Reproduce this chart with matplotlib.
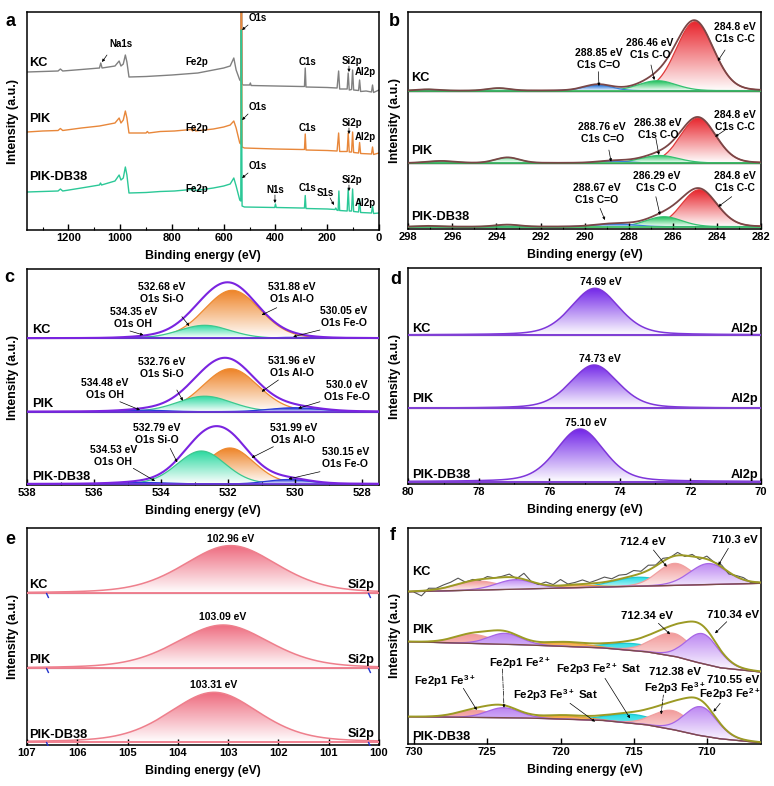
import numpy as np
import matplotlib
matplotlib.use("Agg")
import matplotlib.pyplot as plt
from matplotlib.colors import to_rgb
from matplotlib.patches import Polygon
from matplotlib.ticker import MultipleLocator

plt.rcParams['font.family'] = ['Liberation Sans', 'DejaVu Sans']
plt.rcParams['font.weight'] = 'bold'
plt.rcParams['mathtext.fontset'] = 'custom'
plt.rcParams['mathtext.rm'] = 'Liberation Sans:bold'
plt.rcParams['mathtext.bf'] = 'Liberation Sans:bold'
plt.rcParams['mathtext.default'] = 'rm'

W, H = 774, 786
samples = ['KC', 'PIK', 'PIK-DB38']

# ---------------- a: survey spectra (binding energy, intensity) ----------------
kc_be = [1360, 1300, 1240, 1231, 1222, 1150, 1080, 1075, 1070, 1020, 1004, 997, 988, 980, 974,
         966, 900, 800, 700, 640, 600, 575, 561, 552, 538, 534, 532, 529, 525, 500,
         497, 494, 400, 300, 288, 285, 282, 200, 162, 156, 152, 123, 119, 115, 106,
         102, 98, 79, 75, 71, 50, 29, 25, 21, 0]
kc_int = [158, 158.5, 159, 161, 159, 160.5, 162, 167, 162, 164, 169, 164, 166, 175, 168,
          153, 153.5, 155, 157, 160, 162, 164, 172, 160, 150, 149, 330, 146, 145, 145,
          147, 144.5, 144, 143.5, 143.5, 162, 143, 142.5, 142, 159, 141, 141, 157, 140, 140.5,
          160, 140, 139.5, 150, 138.5, 139, 138, 145, 137.5, 140]
pik_be = [1360, 1300, 1240, 1231, 1222, 1150, 1080, 1020, 1004, 997, 988, 980, 974, 966, 900,
          895, 890, 845, 790, 726, 720, 713, 708, 640, 600, 575, 561, 552, 538, 534,
          532, 529, 520, 400, 300, 288, 285, 282, 200, 162, 156, 152, 123, 119, 115,
          106, 102, 98, 79, 75, 71, 29, 25, 21, 0]
pik_int = [98, 99, 99.5, 101.5, 99.5, 102, 104, 107, 112, 107, 110, 119, 112, 97, 97,
           98.5, 97, 98.5, 99, 100.5, 99, 102.5, 99, 101, 103, 105, 109, 102, 87, 86,
           330, 83, 82, 81, 80.5, 80.5, 96, 80, 79.5, 79, 97, 78.5, 78.5, 97, 78,
           78, 98, 77.5, 77, 87.5, 76.5, 76, 83, 75.5, 77]
db_be = [1360, 1300, 1240, 1231, 1222, 1150, 1080, 1076, 1072, 1020, 1004, 997, 988, 980, 974,
         966, 900, 845, 790, 726, 720, 713, 708, 640, 600, 575, 561, 552, 538, 534,
         532, 529, 520, 403, 400, 397, 300, 288, 285, 282, 200, 170, 167, 163, 158,
         155, 152, 123, 119, 115, 106, 102, 98, 79, 75, 71, 29, 25, 21, 0]
db_int = [38, 38.5, 39, 41, 39, 42, 45, 47, 45, 49, 55, 50, 52, 63, 55,
          37, 37.5, 38.5, 39, 40.5, 39.5, 43, 39.5, 42, 44, 46, 52, 44, 30, 29,
          200, 24, 23, 22.5, 26, 22.5, 22, 22, 34.5, 21.5, 21, 20.5, 22, 20, 19.5,
          39, 19.5, 19, 41, 19, 19, 41, 18.5, 18, 31, 17.5, 17, 24, 16.5, 17]

# ---------------- b: C1s fits, (centre eV, height, FWHM) ----------------
c1s_base = [138.3, 66, 2.3]
c1s_cc = [(285.0, 69, 2.0), (284.85, 45, 1.9), (284.8, 37, 1.9)]
c1s_co = [(286.7, 10, 2.0), (286.6, 7.5, 2.0), (286.4, 10, 1.9)]
c1s_cdo = [(289.4, 6, 1.5), (288.7, 2, 1.6), (288.6, 3, 2.0)]
c1s_sat = [[(297.1, 1.3, 1.2), (293.9, 2.5, 1.2)],
           [(296.5, 2.0, 1.5), (293.5, 5.5, 1.3)],
           [(297.0, 0.8, 1.2), (293.5, 2.0, 1.3)]]
c1s_cc_lab = ['284.8 eV', '284.8 eV', '284.8 eV']
c1s_co_lab = ['286.46 eV', '286.38 eV', '286.29 eV']
c1s_cdo_lab = ['288.85 eV', '288.76 eV', '288.67 eV']

# ---------------- c: O1s fits ----------------
o1s_base = [146.7, 73.3, 1.0]
o1s_alo = [(531.88, 48, 1.95), (531.93, 43, 1.95), (531.95, 36, 1.7)]
o1s_sio = [(532.7, 13, 1.8), (532.7, 15.5, 1.9), (532.8, 33, 1.7)]
o1s_oh = [(534.4, 1.0, 1.5), (534.5, 1.5, 1.6), (534.5, 1.5, 1.8)]
o1s_feo = [(530.0, 1.0, 1.5), (530.0, 4.0, 1.8), (530.2, 4.5, 1.5)]
o1s_lab = [['534.35 eV', '532.68 eV', '531.88 eV', '530.05 eV'],
           ['534.48 eV', '532.76 eV', '531.96 eV', '530.0 eV'],
           ['534.53 eV', '532.79 eV', '531.99 eV', '530.15 eV']]

# ---------------- d: Al2p ----------------
al2p_base = [149, 75.7, 2.3]
al2p_peak = [(74.71, 46.7, 1.6), (74.73, 43.3, 1.6), (75.13, 52.7, 1.6)]
al2p_lab = ['74.69 eV', '74.73 eV', '75.10 eV']

# ---------------- e: Si2p ----------------
si2p_base = [151.7, 76.7, 2.7]
si2p_peak = [(102.95, 47.7, 2.2), (103.1, 43.3, 2.2), (103.28, 50, 2.1)]
si2p_lab = ['102.96 eV', '103.09 eV', '103.31 eV']
si2p_bg_ends = [106.6, 100.2]

# ---------------- f: Fe2p ----------------
fe_bg_be = [730.4, 722, 717, 714, 712, 710.5, 709, 706.3]
fe_bg = [[152.3, 155.2, 157.0, 158.0, 158.7, 159.2, 159.8, 160.7],
         [102.3, 99, 96, 92, 87, 81, 76, 72],
         [27.3, 26, 23.5, 19, 13.5, 8.5, 5, 1.3]]
fe_p1_3 = [(725.7, 9, 3.5), (726.0, 9, 3.0), (725.8, 7, 3.0)]
fe_p1_2 = [(723.1, 9.5, 3.0), (723.8, 11, 2.6), (723.9, 10, 2.6)]
fe_sat3 = [(718.8, 2.5, 3.0), (719.6, 4, 3.5), (719.7, 3.5, 3.5)]
fe_sat2 = [(714.7, 9, 4.0), (715.0, 7, 4.0), (715.0, 9, 4.0)]
fe_p3_3 = [(712.2, 22, 2.8), (712.3, 23, 3.2), (712.35, 19, 3.0)]
fe_p3_2 = [(709.9, 21, 3.0), (710.3, 30, 2.6), (710.4, 29, 2.6)]
# KC raw data, deviation from the fit every 0.5 eV from 730 to 706.5
kc_fe_raw_be = np.arange(730, 706.4, -0.5)
kc_fe_resid = [-1, -5, 2, 1, 3, 4, 6, 0, 1, -1, 2, 0, 1, 3, -1, 6, 0, -1, 3, 1, 6, 1, 2, 4,
               1, 3, 5, 2, 4, 3, 5, 2, 5, 1, 3, 0, 3, -1, 2, -2, 3, 0, 2, -2, 1, 2, -1, 0]

NAME_FS = 9.2
LAB_FS = 7.5

fig = plt.figure(figsize=(W / 100, H / 100), dpi=100)


def ftext(px, py, s, **kw):
    fig.text(px / W, 1 - py / H, s, **kw)


def make_ax(l, t, r, b):
    ax = fig.add_axes([l / W, 1 - b / H, (r - l) / W, (b - t) / H])
    for s in ax.spines.values():
        s.set_linewidth(1.1)
    return ax


def finish(ax, xlim, ylim, major, minor=None):
    ax.set_xlim(*xlim)
    ax.set_ylim(*ylim)
    ax.xaxis.set_major_locator(MultipleLocator(major))
    if minor:
        ax.xaxis.set_minor_locator(MultipleLocator(minor))
    ax.set_yticks([])
    ax.tick_params(axis='x', which='both', direction='in', labelsize=8, pad=2.5)
    ax.tick_params(which='major', length=4, width=1)
    ax.tick_params(which='minor', length=2, width=0.8)


def pv(x, c, h, w, eta):
    g = np.exp(-4 * np.log(2) * ((x - c) / w) ** 2)
    lor = 1 / (1 + 4 * ((x - c) / w) ** 2)
    return h * ((1 - eta) * g + eta * lor)


def grad_fill(ax, x, lo, hi, color, z):
    lo = np.broadcast_to(lo, x.shape)
    verts = np.vstack([np.column_stack([x, hi]), np.column_stack([x[::-1], lo[::-1]])])
    patch = Polygon(verts, closed=True, fc='none', ec='none')
    ax.add_patch(patch)
    t = np.linspace(0, 1, 200)[:, None, None]
    img = (1 - t) * np.ones(3) + t * np.array(to_rgb(color))
    im = ax.imshow(img, extent=[x.min(), x.max(), lo.min(), hi.max()], origin='lower',
                   aspect='auto', interpolation='bilinear', zorder=z)
    im.set_clip_path(patch)


def stack(ax, x, base, comps, eta, lw=0.9):
    base = np.broadcast_to(base, x.shape).astype(float)
    total = np.zeros_like(x)
    for i, (c, h, w, fc, lc) in enumerate(comps):
        y = pv(x, c, h, w, eta)
        grad_fill(ax, x, base, base + y, fc, 1 + i * 0.02)
        ax.plot(x, base + y, color=lc, lw=lw, zorder=1.01 + i * 0.02)
        total += y
    return base + total


def note(ax, s, x, y, arrow=None, ha='center', size=LAB_FS, ls='-'):
    ax.text(x, y, s, ha=ha, va='center', fontsize=size, fontweight='bold',
            linespacing=1.25, zorder=10)
    if arrow:
        ax.annotate('', xy=arrow[1], xytext=arrow[0], zorder=10,
                    arrowprops=dict(arrowstyle='-|>', color='k', lw=0.5, mutation_scale=4,
                                    shrinkA=0, shrinkB=0, linestyle=ls))


def frame_text(ax_box, letter, letter_xy, ylab_x):
    l, t, r, b = ax_box
    ftext(letter_xy[0], letter_xy[1], letter, fontsize=13, fontweight='bold', ha='center', va='center')
    ftext((l + r) / 2, b + 26, 'Binding energy (eV)', fontsize=8.8, fontweight='bold',
          ha='center', va='center')
    ftext(ylab_x, (t + b) / 2, 'Intensity (a.u.)', fontsize=9, fontweight='bold',
          ha='center', va='center', rotation=90)


# ======================= a =======================
box_a = (27, 12, 379, 230)
ax = make_ax(*box_a)
ax.plot(kc_be, kc_int, color='#808080', lw=1.0)
ax.plot(pik_be, pik_int, color='#E8873A', lw=1.0)
ax.plot(db_be, db_int, color='#2BC897', lw=1.0)
note(ax, 'KC', 1352, 167, ha='left', size=NAME_FS)
note(ax, 'PIK', 1352, 111, ha='left', size=NAME_FS)
note(ax, 'PIK-DB38', 1352, 53, ha='left', size=NAME_FS)
note(ax, 'Na1s', 997, 186, ((1051, 175), (1070, 168)), size=7)
for yy in [168, 102, 41]:
    note(ax, 'Fe2p', 703, yy, size=7)
for yo, y1, y2, yc, ys, ya in [(212, 205, 200, 168, 169, 158), (123, 116, 110, 102, 107, 93),
                               (64, 57, 52, 42, 50, 27)]:
    note(ax, 'O1s', 467, yo, ((506, y1), (529, y2)), size=7)
    note(ax, 'C1s', 278, yc, size=7)
    note(ax, 'Si2p', 104, ys, ((116, ys - 5), (116, ys - 11)), size=7)
    note(ax, 'Al2p', 54, ya, size=7)
note(ax, 'N1s', 402, 40, ((402, 35), (402, 27)), size=7)
note(ax, 'S1s', 209, 37, ((189, 32), (174, 25)), size=7)
finish(ax, (1360, 0), (0, 218), 200, 100)
frame_text(box_a, 'a', (11, 21), 13)

# ======================= b =======================
box_b = (408.3, 12, 761, 229)
ax = make_ax(*box_b)
xb = np.linspace(282, 298, 900)
for i in range(3):
    comps = [(*c1s_cc[i], '#E8262E', '#E03A3A'),
             (*c1s_co[i], '#22C35E', '#34C070')]
    comps += [(c, h, w, '#7FE0A0', '#5CCB86') for c, h, w in c1s_sat[i]]
    comps += [(*c1s_cdo[i], '#1D6FD8', '#3A80D8')]
    env = stack(ax, xb, c1s_base[i], comps, 0.1)
    ax.plot(xb, np.full_like(xb, c1s_base[i]), color='#3CC060', lw=1.2, zorder=3)
    ax.plot(xb, env, color='#7A4646', lw=1.3, zorder=3.1)
for yd in c1s_base[:2]:
    ax.axhline(yd, color='#333333', lw=1.0, zorder=2.9)
arrows_b = [
    [((283.63, 179), (283.96, 168)), ((286.99, 164), (286.84, 149)), ((289.38, 157.3), (289.35, 143))],
    [((283.63, 99), (284.08, 92.3)), ((286.77, 90.7), (286.63, 74)), ((288.9, 79), (288.8, 67.3))],
    [((283.33, 32.3), (283.94, 22.3)), ((286.77, 32.3), (286.58, 14)), ((289.3, 20.7), (289.08, 9))]]
pos_b = [[(283.18, 195.7), (287.03, 179.7), (289.38, 169.5)],
         [(283.18, 108.2), (286.68, 99.8), (289.2, 96)],
         [(283.18, 47), (286.73, 47), (289.45, 34.8)]]
name_y_b = [150.7, 78.3, 12.3]
for i in range(3):
    labs = [c1s_cc_lab[i] + '\nC1s C-C', c1s_co_lab[i] + '\nC1s C-O', c1s_cdo_lab[i] + '\nC1s C=O']
    for s, p, a in zip(labs, pos_b[i], arrows_b[i]):
        note(ax, s, p[0], p[1], a)
    note(ax, samples[i], 297.85, name_y_b[i], ha='left', size=NAME_FS)
finish(ax, (298, 282), (0, 217), 2, 1)
frame_text(box_b, 'b', (394, 21), 395)

# ======================= c =======================
box_c = (27, 269, 379, 485)
ax = make_ax(*box_c)
xc = np.linspace(527.5, 538, 900)
for i in range(3):
    comps = [(*o1s_alo[i], '#EE8428', '#EE8A30'),
             (*o1s_sio[i], '#2BD9A0', '#3CC88E'),
             (*o1s_oh[i], '#1A2ED8', '#2A3CD8'),
             (*o1s_feo[i], '#1A2ED8', '#2A3CD8')]
    env = stack(ax, xc, o1s_base[i], comps, 0.1)
    ax.plot(xc, np.full_like(xc, o1s_base[i]), color='#6A36D8', lw=1.3, zorder=3)
    ax.plot(xc, env, color='#7A24E0', lw=1.5, zorder=3.1)
for yd in o1s_base[:2]:
    ax.axhline(yd, color='#333333', lw=0.8, zorder=2.9)
pos_c = [[(534.83, 167.2), (533.98, 191.5), (530.1, 191.5), (528.56, 167.5)],
         [(535.67, 95.8), (533.98, 117.2), (530.1, 118.2), (528.46, 94.2)],
         [(535.43, 29.5), (534.13, 50.8), (530.06, 50.8), (528.51, 27.5)]]
arrows_c = [[((534.93, 154), (534.53, 150)), ((533.38, 168.3), (533.16, 159)),
             ((530.55, 177.3), (531.0, 170)), ((529.26, 155), (530.06, 148.3))],
            [((535.23, 83.3), (534.63, 75)), ((533.53, 95), (533.35, 84.3)),
             ((530.5, 105), (531.0, 93.3)), ((529.26, 83.3), (529.91, 76.7))],
            [((534.83, 16.7), (534.18, 4)), ((533.73, 36.7), (533.52, 22.7)),
             ((530.65, 38.3), (531.3, 27.3)), ((529.26, 13.3), (530.2, 6))]]
o1s_names = ['O1s OH', 'O1s Si-O', 'O1s Al-O', 'O1s Fe-O']
name_y_c = [155, 80.7, 8.3]
for i in range(3):
    for j in range(4):
        note(ax, o1s_lab[i][j] + '\n' + o1s_names[j], pos_c[i][j][0], pos_c[i][j][1], arrows_c[i][j])
    note(ax, samples[i], 537.86, name_y_c[i], ha='left', size=NAME_FS)
finish(ax, (538, 527.5), (0, 216), 2, 1)
frame_text(box_c, 'c', (9, 277), 13)

# ======================= d =======================
box_d = (408.3, 268, 761, 484)
ax = make_ax(*box_d)
xd = np.linspace(70, 80, 900)
name_y_d = [155, 85, 9]
lab_y_d = [201.7, 125, 60.7]
for i in range(3):
    stack(ax, xd, al2p_base[i], [(*al2p_peak[i], '#7226E8', '#7E36DA')], 0.3, lw=1.1)
    ax.plot(xd, np.full_like(xd, al2p_base[i]), color='#8040D4', lw=1.5, zorder=3)
    note(ax, al2p_lab[i], al2p_peak[i][0] - 0.17, lab_y_d[i])
    note(ax, samples[i], 79.89, name_y_d[i], ha='left', size=NAME_FS)
    note(ax, 'Al2p', 70.09, name_y_d[i], ha='right', size=NAME_FS)
for yd in al2p_base[:2]:
    ax.axhline(yd, color='#333333', lw=0.8, zorder=2.9)
finish(ax, (80, 70), (0, 216), 2, 1)
frame_text(box_d, 'd', (396, 279), 395)

# ======================= e =======================
box_e = (27, 528, 379, 745)
ax = make_ax(*box_e)
xe = np.linspace(100, 107, 900)
name_y_e = [160, 85, 10.5]
lab_y_e = [205.7, 128.3, 60]
for i in range(3):
    stack(ax, xe, si2p_base[i], [(*si2p_peak[i], '#EE6A7E', '#EE7F8C')], 0.3, lw=1.1)
    ax.plot(xe, np.full_like(xe, si2p_base[i]), color='#F08090', lw=1.4, zorder=3)
    ax.plot(si2p_bg_ends, [si2p_base[i] - 2] * 2, ls='none', marker=(2, 0, 25), ms=4,
            mew=1.0, color='#2233CC', zorder=3)
    note(ax, si2p_lab[i], si2p_peak[i][0], lab_y_e[i])
    note(ax, samples[i], 106.95, name_y_e[i], ha='left', size=NAME_FS)
    note(ax, 'Si2p', 100.08, name_y_e[i], ha='right', size=NAME_FS)
for yd in si2p_base[:2]:
    ax.axhline(yd, color='#333333', lw=0.8, zorder=2.9)
finish(ax, (107, 100), (0, 217), 1)
frame_text(box_e, 'e', (10, 539), 13)

# ======================= f =======================
box_f = (408.3, 528, 761, 744)
ax = make_ax(*box_f)
xf = np.linspace(706.3, 730.4, 1200)
name_y_f = [171.7, 114, 7.3]
for i in range(3):
    base = np.interp(xf, fe_bg_be[::-1], fe_bg[i][::-1])
    comps = [(*fe_sat2[i], '#22DCE4', '#20C8D0'),
             (*fe_sat3[i], '#F6A83C', '#EAA040'),
             (*fe_p3_3[i], '#F29A9A', '#F0A0A0'),
             (*fe_p3_2[i], '#BC86F2', '#A766E6'),
             (*fe_p1_3[i], '#F29A9A', '#F0A0A0'),
             (*fe_p1_2[i], '#BC86F2', '#A766E6')]
    env = stack(ax, xf, base, comps, 0.1)
    if i == 0:
        raw = np.interp(kc_fe_raw_be[::-1], xf, env)[::-1] + np.array(kc_fe_resid)
        ax.plot(kc_fe_raw_be, raw, color='#555555', lw=0.8, zorder=3)
    ax.plot(xf, env, color='#9C9A24', lw=1.4, zorder=3.1)
    ax.plot(xf, base, color='#7A4B4B', lw=1.0, zorder=3)
    note(ax, samples[i], 730.15, name_y_f[i], ha='left', size=NAME_FS)
FS_F = 8.2
note(ax, '712.4 eV', 714.34, 201.7, ((713.65, 194), (712.74, 177.3)), size=FS_F)
note(ax, '710.3 eV', 708.07, 204, ((708.53, 195.7), (709.21, 179)), size=FS_F)
note(ax, '712.34 eV', 714.1, 128, ((713.31, 120.7), (712.51, 109.7)), size=FS_F)
note(ax, '710.34 eV', 708.19, 129, ((708.64, 122.3), (709.44, 110.7)), size=FS_F)
note(ax, 'Fe2p1 Fe$^{3+}$', 727.89, 63, ((726.64, 55.7), (725.72, 34)), size=FS_F)
note(ax, 'Fe2p1 Fe$^{2+}$', 722.76, 80.7, ((723.97, 75), (723.86, 36.3)), size=FS_F, ls='-.')
note(ax, 'Fe2p3 Fe$^{3+}$ Sat', 720.37, 49, ((719.35, 40.7), (717.64, 22.3)), size=FS_F)
note(ax, 'Fe2p3 Fe$^{2+}$ Sat', 717.41, 75, ((716.96, 65.7), (715.25, 25.7)), size=FS_F)
note(ax, '712.38 eV\nFe2p3 Fe$^{3+}$', 712.17, 62.8, ((712.97, 49), (713.13, 29.7)), size=FS_F, ls='--')
note(ax, '710.55 eV', 708.19, 64, size=FS_F)
note(ax, 'Fe2p3 Fe$^{2+}$', 708.41, 50, ((709.09, 40.7), (709.55, 32.3)), size=FS_F)
finish(ax, (730.4, 706.3), (0, 216), 5)
frame_text(box_f, 'f', (393, 536), 395)

fig.savefig('out.png', dpi=100)
